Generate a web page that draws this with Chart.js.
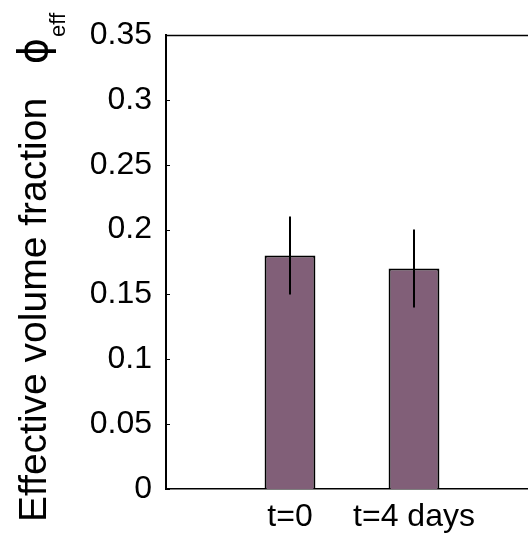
<!DOCTYPE html>
<html>
<head>
<meta charset="utf-8">
<script src="https://cdn.jsdelivr.net/npm/chart.js@4.4.1/dist/chart.umd.min.js"></script>
<style>
  html, body { margin: 0; padding: 0; background: #fff; overflow: hidden; }
  canvas { display: block; }
</style>
</head>
<body>
<canvas id="Chart" width="560" height="535"></canvas>
<script>
// x tick labels (empty ends give the 0..3 axis range)
var labels = ['', 't=0', 't=4 days', ''];
// mean effective volume fraction and error bar half length
var values = [null, 0.18, 0.17, null];
var errors = [null, 0.03, 0.03, null];
var yTitle = 'Effective volume fraction';

var FONT = '"Liberation Sans", Arial, Helvetica, sans-serif';

/* error bars, top box line, inward ticks, rotated titles */
var extras = {
    id: 'extras',
    afterDatasetsDraw: function(chart){
        var ctx = chart.ctx;
        var y = chart.scales.y;
        var meta = chart.getDatasetMeta(0);
        ctx.save();
        ctx.strokeStyle = '#000';
        ctx.lineWidth = 2;
        for(let i=0;i<values.length;i++){
            if(values[i]==null) continue;
            var bar = meta.data[i];
            ctx.beginPath();
            ctx.moveTo(bar.x, y.getPixelForValue(values[i]+errors[i]));
            ctx.lineTo(bar.x, y.getPixelForValue(values[i]-errors[i]));
            ctx.stroke();
        };
        ctx.restore();
    },
    afterDraw: function(chart){
        var ctx = chart.ctx;
        var a = chart.chartArea;
        var y = chart.scales.y;
        ctx.save();
        ctx.strokeStyle = '#000';
        // top of the box
        ctx.lineWidth = 1.5;
        ctx.beginPath();
        ctx.moveTo(a.left, a.top + 0.5);
        ctx.lineTo(a.right, a.top + 0.5);
        ctx.stroke();
        // inward y ticks
        ctx.lineWidth = 1;
        y.ticks.forEach(function(t){
            var py = Math.round(y.getPixelForValue(t.value)) + 0.5;
            ctx.beginPath();
            ctx.moveTo(a.left, py);
            ctx.lineTo(a.left + 4, py);
            ctx.stroke();
        });
        // axis titles
        ctx.fillStyle = '#000';
        ctx.textBaseline = 'alphabetic';
        ctx.save();
        ctx.translate(46, 310);
        ctx.rotate(-Math.PI/2);
        ctx.textAlign = 'center';
        ctx.font = '39px ' + FONT;
        ctx.fillText(yTitle, 0, 0);
        ctx.restore();
        ctx.save();
        ctx.translate(47, 51);
        ctx.rotate(-Math.PI/2);
        ctx.textAlign = 'center';
        ctx.font = '40px "DejaVu Sans", sans-serif';
        ctx.fillText('\u03D5', 0, 0);
        ctx.restore();
        ctx.save();
        ctx.translate(65, 37);
        ctx.rotate(-Math.PI/2);
        ctx.textAlign = 'left';
        ctx.font = '22px ' + FONT;
        ctx.fillText('eff', 0, 0);
        ctx.restore();
        ctx.restore();
    }
};

var chart = new Chart(document.getElementById('Chart'), {
    type: 'bar',
    data: {
        labels: labels,
        datasets: [{
            data: values,
            backgroundColor: '#815f78',
            borderColor: '#000',
            borderWidth: 2,
            barPercentage: 0.41,
            categoryPercentage: 1
        }]
    },
    options: {
        responsive: false,
        animation: false,
        events: [],
        layout: { padding: { left: 0, top: 35, right: 22, bottom: 0 } },
        plugins: { legend: { display: false }, tooltip: { enabled: false } },
        scales: {
            x: {
                offset: false,
                grid: { display: false, drawTicks: false },
                border: { display: true, color: '#000', width: 1.5 },
                ticks: { color: '#000', padding: 9, maxRotation: 0, autoSkip: false,
                         font: { family: FONT, size: 32 } },
                afterFit: function(s){ s.height = 46; }
            },
            y: {
                min: 0, max: 0.35,
                grid: { display: false, drawTicks: false },
                border: { display: true, color: '#000', width: 2 },
                ticks: { stepSize: 0.05, color: '#000', padding: 14,
                         font: { family: FONT, size: 32 },
                         callback: function(v){ return String(+v.toFixed(2)); } },
                afterFit: function(s){ s.width = 166; }
            }
        }
    },
    plugins: [extras]
});
</script>
</body>
</html>
